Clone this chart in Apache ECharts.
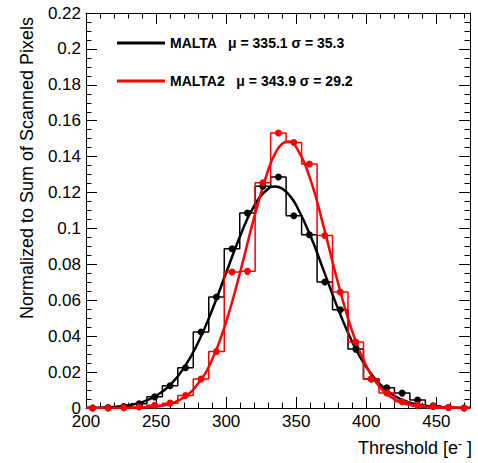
<!DOCTYPE html>
<html><head><meta charset="utf-8">
<script src="https://cdn.jsdelivr.net/npm/echarts@6/dist/echarts.min.js"></script>
<style>html,body{margin:0;padding:0;background:#fff}#c{width:478px;height:463px}</style>
</head><body><div id="c"></div>
<script>
// ---- data ----
const binCenters = [204.8, 215.8, 226.9, 237.9, 249.0, 260.0, 271.0, 282.1, 293.1, 304.2, 315.2, 326.2, 337.3, 348.3, 359.4, 370.4, 381.4, 392.5, 403.5, 414.6, 425.6, 436.6, 447.7, 458.7, 469.8];
const maltaHist  = [0, 0.0002, 0.0008, 0.0023, 0.0062, 0.0124, 0.0224, 0.0423, 0.0618, 0.0887, 0.1086, 0.1235, 0.1287, 0.1071, 0.0965, 0.0702, 0.0547, 0.0328, 0.0162, 0.0113, 0.0083, 0.0044, 0.0012, 0.0003, 0];
const malta2Hist = [0, 0, 0.0002, 0.0006, 0.0015, 0.0027, 0.0070, 0.0162, 0.0315, 0.0757, 0.0761, 0.1255, 0.1532, 0.1479, 0.1359, 0.0961, 0.0646, 0.0368, 0.0162, 0.0084, 0.0035, 0.0015, 0.0009, 0.0004, 0];
const fitX       = [200, 210, 220, 230, 240, 250, 260, 270, 280, 290, 300, 310, 320, 330, 335, 340, 345, 350, 360, 370, 380, 390, 400, 410, 420, 430, 440, 450, 460, 470, 474];
const maltaFit   = [0.0001, 0.0002, 0.0006, 0.0015, 0.0033, 0.0068, 0.0128, 0.0225, 0.0365, 0.0546, 0.0753, 0.0958, 0.1126, 0.1221, 0.1234, 0.1222, 0.1186, 0.1129, 0.0962, 0.0757, 0.0550, 0.0368, 0.0228, 0.0130, 0.0068, 0.0033, 0.0015, 0.0006, 0.0002, 0.0001, 0.0001];
const malta2Fit  = [0, 0, 0, 0.0001, 0.0003, 0.0008, 0.0024, 0.0060, 0.0136, 0.0270, 0.0480, 0.0757, 0.1062, 0.1326, 0.1418, 0.1472, 0.1484, 0.1453, 0.1276, 0.0996, 0.0692, 0.0427, 0.0235, 0.0115, 0.0050, 0.0019, 0.0007, 0.0002, 0.0001, 0, 0];
const seriesNames = ['MALTA', 'MALTA2'];
const fitMeans  = ['335.1', '343.9'];
const fitSigmas = ['35.3', '29.2'];
const yTickLabels = ['0', '0.02', '0.04', '0.06', '0.08', '0.1', '0.12', '0.14', '0.16', '0.18', '0.2', '0.22'];
const xTickLabels = ['200', '250', '300', '350', '400', '450'];

const FONT = '"Liberation Sans", Arial, Helvetica, sans-serif';
const pairs = (xs, ys) => xs.map((x, i) => [x, ys[i]]);

const xRange = {min: 200, max: 474};
function xAxisDef(pos, interval, tickLen, showLabel, showLine) {
  return {
    type: 'value', position: pos, min: xRange.min, max: xRange.max, interval: interval,
    axisLine: {show: showLine, onZero: false, lineStyle: {color: '#000', width: 1}},
    axisTick: {show: true, inside: true, length: tickLen, lineStyle: {color: '#000', width: 1}},
    axisLabel: {show: showLabel, margin: 5, color: '#000', fontSize: 17, fontFamily: FONT,
      formatter: v => (xTickLabels.indexOf(String(v)) >= 0 ? String(v) : '')},
    splitLine: {show: false}
  };
}
function yAxisDef(pos, showLabel) {
  return {
    type: 'value', position: pos, min: 0, max: 0.22, interval: 0.02,
    axisLine: {show: true, onZero: false, lineStyle: {color: '#000', width: 1}},
    axisTick: {show: true, inside: true, length: 11, lineStyle: {color: '#000', width: 1}},
    minorTick: {show: true, splitNumber: 4, length: 5.5, lineStyle: {color: '#000', width: 1}},
    axisLabel: {show: showLabel, margin: 5, color: '#000', fontSize: 17, fontFamily: FONT,
      formatter: (v) => { const s = String(+v.toFixed(2)); return yTickLabels.indexOf(s) >= 0 ? s : ''; }},
    splitLine: {show: false}
  };
}

const chart = echarts.init(document.getElementById('c'), null, {renderer: 'svg'});
chart.setOption({
  animation: false,
  backgroundColor: '#fff',
  grid: {left: 86, right: 8, top: 13, bottom: 55, containLabel: false},
  xAxis: [
    xAxisDef('bottom', 50, 11, true, true),
    xAxisDef('bottom', 10, 5.5, false, false),
    xAxisDef('top', 50, 11, false, true),
    xAxisDef('top', 10, 5.5, false, false)
  ],
  yAxis: [yAxisDef('left', true), yAxisDef('right', false)],
  legend: {
    data: seriesNames, orient: 'vertical', left: 112, top: 31,
    itemWidth: 48, itemHeight: 3, itemGap: 24, icon: 'rect',
    textStyle: {fontFamily: FONT, fontWeight: 'bold', fontSize: 14, color: '#000'},
    formatter: name => {
      const i = seriesNames.indexOf(name);
      return name + '   \u03bc = ' + fitMeans[i] + ' \u03c3 = ' + fitSigmas[i];
    }
  },
  series: [
    {name: 'MALTA hist', type: 'line', step: 'middle', data: pairs(binCenters, maltaHist),
      symbol: 'circle', symbolSize: 7, showAllSymbol: true,
      itemStyle: {color: '#000'}, lineStyle: {color: '#000', width: 1.5}},
    {name: 'MALTA', type: 'line', smooth: true, data: pairs(fitX, maltaFit), showSymbol: false, symbol: 'none',
      itemStyle: {color: '#000'}, lineStyle: {color: '#000', width: 2.5}},
    {name: 'MALTA2 hist', type: 'line', step: 'middle', data: pairs(binCenters, malta2Hist),
      symbol: 'circle', symbolSize: 7, showAllSymbol: true,
      itemStyle: {color: '#ff0000'}, lineStyle: {color: '#ff0000', width: 1.5}},
    {name: 'MALTA2', type: 'line', smooth: true, data: pairs(fitX, malta2Fit), showSymbol: false, symbol: 'none',
      itemStyle: {color: '#ff0000'}, lineStyle: {color: '#ff0000', width: 2.5}}
  ],
  graphic: [
    {type: 'text', x: 27, y: 168, rotation: Math.PI / 2,
      style: {text: 'Normalized to Sum of Scanned Pixels', font: '18px ' + FONT, fill: '#000', align: 'center', verticalAlign: 'middle'}},
    {type: 'text', x: 472, y: 448,
      style: {text: 'Threshold [e{s|-} ]', font: '18px ' + FONT, fill: '#000', align: 'right', verticalAlign: 'middle',
        rich: {s: {fontSize: 12, fontFamily: FONT, verticalAlign: 'top', padding: [0, 0, 8, 0]}}}}
  ]
});
</script></body></html>
